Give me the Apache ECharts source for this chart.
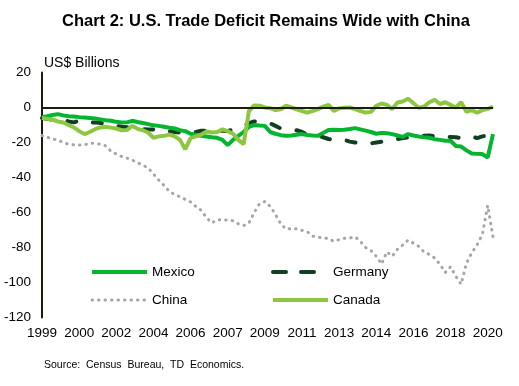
<!DOCTYPE html>
<html><head><meta charset="utf-8">
<script src="https://cdn.jsdelivr.net/npm/echarts@6/dist/echarts.min.js"></script>
<style>html,body{margin:0;padding:0;background:#fff}#c{width:519px;height:386px}</style>
</head><body><div id="c"></div>
<script>
const categories = [
'1999Q1','1999Q2','1999Q3','1999Q4','2000Q1','2000Q2','2000Q3','2000Q4',
'2001Q1','2001Q2','2001Q3','2001Q4','2002Q1','2002Q2','2002Q3','2002Q4',
'2003Q1','2003Q2','2003Q3','2003Q4','2004Q1','2004Q2','2004Q3','2004Q4',
'2005Q1','2005Q2','2005Q3','2005Q4','2006Q1','2006Q2','2006Q3','2006Q4',
'2007Q1','2007Q2','2007Q3','2007Q4','2008Q1','2008Q2','2008Q3','2008Q4',
'2009Q1','2009Q2','2009Q3','2009Q4','2010Q1','2010Q2','2010Q3','2010Q4',
'2011Q1','2011Q2','2011Q3','2011Q4','2012Q1','2012Q2','2012Q3','2012Q4',
'2013Q1','2013Q2','2013Q3','2013Q4','2014Q1','2014Q2','2014Q3','2014Q4',
'2015Q1','2015Q2','2015Q3','2015Q4','2016Q1','2016Q2','2016Q3','2016Q4',
'2017Q1','2017Q2','2017Q3','2017Q4','2018Q1','2018Q2','2018Q3','2018Q4',
'2019Q1','2019Q2','2019Q3','2019Q4','2020Q1','2020Q2'];

const mexico = [
-5.5,-5,-4.3,-3.8,-4.5,-5,-5.1,-5.5,-5.7,-6,
-6.3,-6.8,-7.3,-7.6,-8.2,-8.6,-8.5,-7.6,-8.3,-8.9,
-9.5,-10.2,-10.5,-11,-11.6,-12,-13,-13.5,-15,-15.6,
-16.2,-16.6,-17,-17.3,-18.5,-21.5,-18.5,-16.2,-14,-11,
-10,-10.3,-10.5,-14,-15,-15.8,-16.2,-16,-15.6,-15.2,
-15.7,-16,-16.2,-14.5,-12.8,-12.7,-12.8,-12.7,-12.3,-11.8,
-12.5,-13.2,-14,-15,-14.5,-14.7,-15.2,-16,-16.8,-15.2,
-16,-16.6,-17,-17.3,-18.1,-18.5,-19,-19,-22,-22.3,
-24.5,-26.3,-26.5,-26.6,-28.6,-15.2];

const germany = [
-6,-6.5,-7,-7.5,-7,-8,-8.5,-7.5,-7.5,-8.5,
-8.5,-8.8,-9.5,-10,-10.5,-11,-11.3,-11.2,-12,-12.4,
-12.6,-12.5,-12.5,-12.8,-13.5,-14,-14.3,-14.3,-14.5,-14,
-13.3,-13.3,-13.5,-13.5,-13.3,-13.5,-12.5,-11.5,-10.5,-9,
-8,-8.3,-8.6,-9,-10.5,-12,-12.5,-12.5,-13,-14,
-15.5,-16,-16,-17,-18,-18.5,-18.7,-18.5,-19.5,-20,
-20.5,-20.5,-20.5,-20,-19.5,-19,-18.5,-18,-17.5,-17,
-16.5,-16.2,-16.2,-16,-16.5,-16.8,-16.8,-16.8,-17,-17.5,
-17,-16.5,-17.5,-16.5,-16,-15];

const china = [
-16,-17,-18,-18.6,-20,-21,-21.3,-21.5,-21.3,-20.4,
-20.5,-21,-21.9,-25,-26.5,-28,-28.9,-30,-31.5,-33,
-34.5,-38,-41.5,-44.5,-48,-49.7,-51,-52.5,-54,-56.6,
-58.7,-63,-66,-64.2,-64.2,-64.3,-64.7,-66.5,-67.5,-66,
-60,-55,-53.7,-56.5,-61,-66.5,-69.5,-69.2,-69.3,-70.2,
-71,-73.5,-74.1,-74.5,-74.9,-76.5,-75.5,-74.7,-74.6,-73.9,
-76.5,-80,-81.7,-85,-89.5,-82.5,-85,-81,-78.6,-75.8,
-77.5,-79.3,-82.5,-84,-86,-89.5,-94.3,-91,-96.5,-101,
-89,-83,-78.5,-72.5,-56,-74];

const canada = [
-6,-6.5,-7,-8,-8.6,-10,-11.4,-13.5,-15.2,-14,
-12.4,-11.4,-11,-11.5,-12,-13,-12.9,-10.5,-12.2,-13,
-14.3,-17.3,-16.5,-16.2,-15.5,-16.5,-18.5,-23.8,-17.5,-16.5,
-15.5,-13.7,-14.3,-14,-12.5,-13.5,-15,-18.5,-21,-2,
1.2,1,0,-0.4,-1.5,-1,1,0,-1,-2,
-2.9,-2,-0.9,0.5,1.5,-1.9,-0.5,-0.2,0,-0.9,
-2,-2.9,-2.5,1,2.3,1.5,-0.9,2.9,3.4,5,
2.5,-0.2,0.6,3,4.4,2,3,1.5,0,3,
-2.5,-1.5,-3,-1.5,-0.9,0.6];

const FONT = 'Liberation Sans, Arial, sans-serif';
const chart = echarts.init(document.getElementById('c'), null, {renderer: 'canvas'});
const legendText = {fontSize: 13.5, color: '#000', fontFamily: FONT};
const legendCommon = {orient: 'vertical', top: 265, padding: 0, itemWidth: 55, itemHeight: 14, itemGap: 14,
  textStyle: legendText, itemStyle: {opacity: 0}};
chart.setOption({
  animation: false,
  backgroundColor: '#fff',
  title: {
    text: 'Chart 2: U.S. Trade Deficit Remains Wide with China',
    left: 62, top: 13, padding: 0,
    textStyle: {fontSize: 16.5, fontWeight: 'bold', color: '#000', fontFamily: FONT}
  },
  graphic: [
    {type: 'text', left: 44, top: 56, style: {text: 'US$ Billions', fontSize: 14, fill: '#000', fontFamily: FONT}},
    {type: 'text', left: 44, top: 360, style: {text: 'Source:  Census  Bureau,  TD  Economics.', fontSize: 10.5, fill: '#000', fontFamily: FONT}}
  ],
  legend: [
    Object.assign({left: 90, data: [
      {name: 'Mexico', lineStyle: {width: 4}},
      {name: 'China', lineStyle: {width: 3}}]}, legendCommon),
    Object.assign({left: 271, data: [
      {name: 'Germany', lineStyle: {width: 4, type: [13, 15], cap: 'round'}},
      {name: 'Canada', lineStyle: {width: 4}}]}, legendCommon)
  ],
  grid: {left: 42, right: 26, top: 72.5, bottom: 68.5, containLabel: false},
  xAxis: {
    type: 'category', data: categories, boundaryGap: false,
    axisLine: {show: false, onZero: false},
    axisTick: {show: false},
    splitLine: {show: false},
    axisLabel: {interval: 6, margin: 9, fontSize: 13.5, color: '#000', fontFamily: FONT,
      formatter: v => v.slice(0, 4)}
  },
  yAxis: {
    type: 'value', min: -120, max: 20, interval: 20,
    axisLine: {show: true, lineStyle: {color: '#1c1c0c', width: 2, type: 'solid'}},
    axisTick: {show: false},
    splitLine: {show: false},
    axisLabel: {margin: 11, fontSize: 13.5, color: '#000', fontFamily: FONT}
  },
  series: [
    {name: 'China', type: 'line', data: china, symbol: 'none', showSymbol: false,
     lineStyle: {color: '#a6a6a6', width: 3, type: [0.5, 6], cap: 'round'}, itemStyle: {color: '#a6a6a6'},
     markLine: {silent: true, symbol: ['none', 'none'], label: {show: false},
       lineStyle: {color: '#1c1c0c', width: 2, type: 'solid', cap: 'butt'}, data: [{yAxis: 0}]}},
    {name: 'Germany', type: 'line', data: germany, symbol: 'none', showSymbol: false,
     lineStyle: {color: '#123f22', width: 4, type: [9, 17], cap: 'round'}, itemStyle: {color: '#123f22'}},
    {name: 'Mexico', type: 'line', data: mexico, symbol: 'none', showSymbol: false,
     lineStyle: {color: '#05b530', width: 4}, itemStyle: {color: '#05b530'}},
    {name: 'Canada', type: 'line', data: canada, symbol: 'none', showSymbol: false,
     lineStyle: {color: '#8dc641', width: 4}, itemStyle: {color: '#8dc641'}}
  ]
});
</script></body></html>
